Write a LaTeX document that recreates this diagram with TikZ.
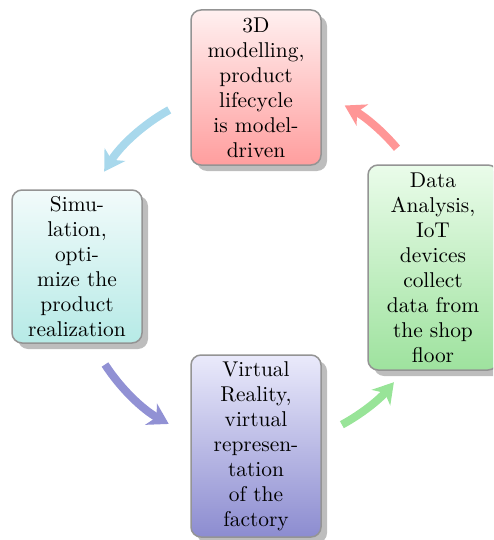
\documentclass[tikz,border=0pt]{standalone}
\usetikzlibrary{shadows,arrows.meta}
\definecolor{arrBlue}{RGB}{168,216,236}
\definecolor{arrPurple}{RGB}{145,145,212}
\definecolor{arrGreen}{RGB}{152,228,152}
\definecolor{arrRed}{RGB}{255,150,150}
\definecolor{redTop}{RGB}{255,240,240}
\definecolor{redBot}{RGB}{255,158,158}
\definecolor{cyanTop}{RGB}{242,251,251}
\definecolor{cyanBot}{RGB}{182,234,230}
\definecolor{blueTop}{RGB}{234,234,251}
\definecolor{blueBot}{RGB}{140,140,208}
\definecolor{greenTop}{RGB}{234,252,234}
\definecolor{greenBot}{RGB}{158,226,158}
\begin{document}
\begin{tikzpicture}[x=0.5pt,y=-0.5pt,
  box/.style={draw=black!42, line width=0.75pt, rounded corners=5pt,
    minimum width=65pt, align=center, inner sep=2pt,
    font=\fontsize{10.7}{12.5}\selectfont,
    drop shadow={shadow xshift=3pt, shadow yshift=-3pt, fill=black!26, opacity=1}},
  arr/.style={line width=4pt, -{Stealth[length=10pt,width=12pt,inset=3pt]}}]
\useasboundingbox (0,0) rectangle (493,540);
\clip (0,0) rectangle (493,540);
\coordinate (c) at (256,266.5);
\node[box, minimum height=77.5pt, top color=redTop, bottom color=redBot]
  (top) at (256,87.5) {3D\\modelling,\\product\\lifecycle\\is model-\\driven};
\node[box, minimum height=76.5pt, top color=cyanTop, bottom color=cyanBot]
  (left) at (77,266.5) {Simu-\\lation,\\opti-\\mize the\\product\\realization};
\node[box, minimum height=91pt, top color=blueTop, bottom color=blueBot]
  (bottom) at (256,446) {Virtual\\Reality,\\virtual\\represen-\\tation\\of the\\factory};
\node[box, minimum height=102.5pt, top color=greenTop, bottom color=greenBot]
  (right) at (433,267.5) {Data\\Analysis,\\IoT\\devices\\collect\\data from\\the shop\\floor};
\draw[arr, arrBlue] ([shift={(-119:179)}]c) arc[start angle=-119, end angle=-148, radius=179];
\draw[arr, arrPurple] ([shift={(-213:180)}]c) arc[start angle=-213, end angle=-241, radius=180];
\draw[arr, arrGreen] ([shift={(-298.5:180)}]c) arc[start angle=-298.5, end angle=-320, radius=180];
\draw[arr, arrRed] ([shift={(-40:184)}]c) arc[start angle=-40, end angle=-61.5, radius=181];
\end{tikzpicture}
\end{document}
